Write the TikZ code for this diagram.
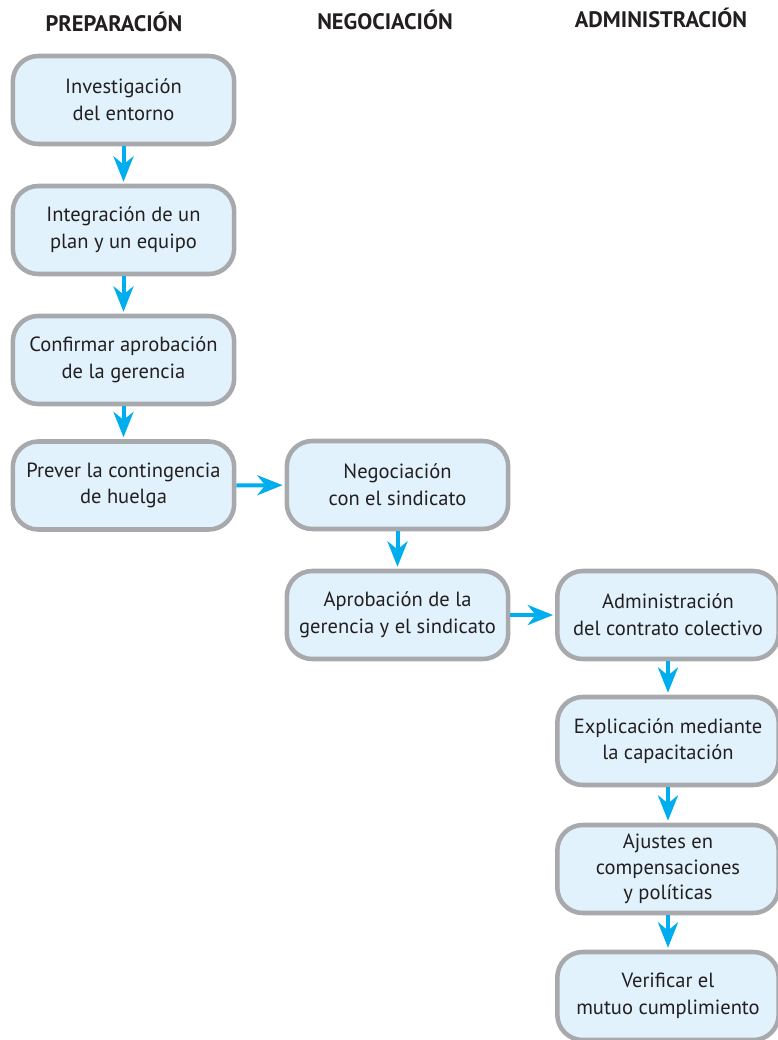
\documentclass[tikz,border=0pt]{standalone}
\usepackage{fontspec}
\setmainfont{PT Sans}
\usepackage{xcolor}
\usetikzlibrary{arrows.meta}
\usetikzlibrary{math}
\definecolor{qblue}{RGB}{0,174,239}
\definecolor{qfill}{RGB}{225,242,252}
\definecolor{qgray}{RGB}{167,169,172}
\definecolor{qtext}{RGB}{35,31,32}

\tikzset{
 paso/.style={draw=qgray, line width=3.4pt, fill=qfill, rounded corners=19pt,
   minimum width=166pt, minimum height=66pt, inner sep=0pt, align=center,
   text=qtext, font=\fontsize{15.4}{20}\selectfont},
 flecha/.style={draw=qblue, line width=3pt, shorten >=1.5pt,
   -{Stealth[length=19pt,width=15pt,inset=6pt]}},
 fase/.style={text=qtext, font=\bfseries\fontsize{16.8}{18}\selectfont}
}

\begin{document}
\begin{tikzpicture}[x=0.75pt,y=-0.75pt]
\tikzmath{
\xa=123.5;
\xb=397.5;
\xc=668;
}
\clip (0,0) rectangle (778,1040);
%column titles
\node[fase] (tprep) at (114,22) {PREPARACIÓN};
\node[fase] (tneg) at (385,20) {NEGOCIACIÓN};
\node[fase] (tadm) at (661,18) {ADMINISTRACIÓN};

%preparacion
\node[paso] (inv) at (\xa,100) {Investigación\\del entorno};
\node[paso] (plan) at (\xa,230) {Integración de un\\plan y un equipo};
\node[paso] (conf) at (\xa,360) {Confirmar aprobación\\de la gerencia};
\node[paso] (prev) at (\xa,485.5) {Prever la contingencia\\de huelga};

%negociacion
\node[paso] (neg) at (\xb,485) {Negociación\\con el sindicato};
\node[paso] (apr) at (\xb,615) {Aprobación de la\\gerencia y el sindicato};

%administracion
\node[paso] (adm) at (\xc,615) {Administración\\del contrato colectivo};
\node[paso] (expl) at (\xc,741) {Explicación mediante\\la capacitación};
\node[paso, font=\fontsize{15.4}{19}\selectfont] (ajus) at (\xc,869) {Ajustes en\\compensaciones\\y políticas};
\node[paso] (ver) at (\xc,996) {Verificar el\\mutuo cumplimiento};

%arrows
\draw[flecha] (inv) -- (plan);
\draw[flecha] (plan) -- (conf);
\draw[flecha] (conf) -- (prev);
\draw[flecha] (prev) -- (neg);
\draw[flecha] (neg) -- (apr);
\draw[flecha] (apr) -- (adm);
\draw[flecha] (adm) -- (expl);
\draw[flecha] (expl) -- (ajus);
\draw[flecha] (ajus) -- (ver);
\end{tikzpicture}
\end{document}
